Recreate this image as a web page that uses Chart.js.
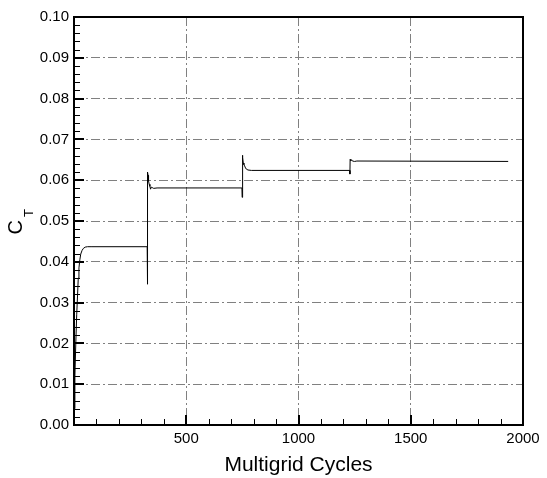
<!DOCTYPE html>
<html>
<head>
<meta charset="utf-8">
<script src="https://cdn.jsdelivr.net/npm/chart.js@4"></script>
<style>
  html, body { margin: 0; padding: 0; background: #fff; }
  #wrap { width: 547px; height: 478px; }
</style>
</head>
<body>
<div id="wrap"><canvas id="ctChart" width="547" height="478"></canvas></div>
<script>
/* ================= DATA ================= */
const cycles = [
    1, 4, 8, 12, 16, 19, 22, 26, 30, 36, 42, 50, 60, 80, 326,
    327, 328, 330, 332, 335, 338, 341, 344, 348, 355, 370, 748,
    749, 750, 752, 754, 757, 760, 764, 768, 775, 790, 1228,
    1229, 1230, 1233, 1236, 1240, 1250, 1260, 1934
];
const ct = [
    0.004, 0.012, 0.020, 0.027, 0.032, 0.036, 0.0385, 0.0405, 0.0419, 0.0428, 0.0433, 0.0436, 0.0437, 0.0437, 0.0437,
    0.0345, 0.0620, 0.0612, 0.0598, 0.0590, 0.0585, 0.0578, 0.0583, 0.0582, 0.0580, 0.0581, 0.0581,
    0.0558, 0.0661, 0.0655, 0.0642, 0.0638, 0.0635, 0.0630, 0.0627, 0.0625, 0.0624, 0.0624,
    0.0615, 0.0651, 0.0648, 0.0650, 0.0647, 0.0646, 0.0647, 0.0646, 0.0646
];
const xTicks = [0, 500, 1000, 1500, 2000];
const yTicks = [0, 0.01, 0.02, 0.03, 0.04, 0.05, 0.06, 0.07, 0.08, 0.09, 0.10];

const FONT = "'Liberation Sans', Arial, Helvetica, sans-serif";
const GRID = "#808080";
const DASH_DOT = [9, 3, 2, 3];

/* ================= FRAME, INWARD TICKS, C_T TITLE ================= */
const frameTicks = {
    id: "frameTicks",
    afterDraw(chart) {
        const { ctx, chartArea: a, scales: { x, y } } = chart;
        ctx.save();
        ctx.strokeStyle = "#000";
        ctx.setLineDash([]);

        // minor ticks
        ctx.lineWidth = 1;
        ctx.beginPath();
        for (let v = 100; v < 2000; v += 100) {
            if (v % 500 === 0) continue;
            const px = Math.round(x.getPixelForValue(v)) + 0.5;
            ctx.moveTo(px, a.bottom);
            ctx.lineTo(px, a.bottom - 6);
        }
        for (let i = 1; i < 50; i++) {
            if (i % 5 === 0) continue;
            const py = Math.round(y.getPixelForValue(i * 0.002)) + 0.5;
            ctx.moveTo(a.left, py);
            ctx.lineTo(a.left + 6, py);
        }
        ctx.stroke();

        // major ticks
        ctx.lineWidth = 2;
        ctx.beginPath();
        xTicks.forEach(v => {
            const px = Math.round(x.getPixelForValue(v));
            ctx.moveTo(px, a.bottom);
            ctx.lineTo(px, a.bottom - 10);
        });
        yTicks.forEach(v => {
            const py = Math.round(y.getPixelForValue(v));
            ctx.moveTo(a.left, py);
            ctx.lineTo(a.left + 10, py);
        });
        ctx.stroke();

        // frame
        ctx.strokeRect(a.left, a.top, a.right - a.left, a.bottom - a.top);

        // y title: C with subscript T
        ctx.fillStyle = "#000";
        ctx.textAlign = "left";
        ctx.textBaseline = "alphabetic";
        ctx.translate(21.5, 234.5);
        ctx.rotate(-Math.PI / 2);
        ctx.font = "20px " + FONT;
        ctx.fillText("C", 0, 0);
        const w = ctx.measureText("C").width;
        ctx.font = "13px " + FONT;
        ctx.fillText("T", w + 3, 11);
        ctx.restore();
    }
};

/* ================= CHART ================= */
new Chart(document.getElementById("ctChart").getContext("2d"), {
    type: "line",
    data: {
        datasets: [{
            data: cycles.map((c, i) => ({ x: c, y: ct[i] })),
            borderColor: "#000",
            borderWidth: 1,
            pointRadius: 0,
            tension: 0,
            fill: false
        }]
    },
    options: {
        responsive: false,
        animation: false,
        layout: { padding: { top: 17, right: 24, left: 0, bottom: 0 } },
        plugins: { legend: { display: false }, tooltip: { enabled: false } },
        scales: {
            x: {
                type: "linear",
                min: 0,
                max: 2000,
                afterFit: s => { s.height = 53; },
                afterBuildTicks: s => { s.ticks = xTicks.map(v => ({ value: v })); },
                border: { display: false, dash: DASH_DOT },
                grid: {
                    drawTicks: false,
                    color: c => (c.tick && (c.tick.value === 0 || c.tick.value === 2000)) ? "rgba(0,0,0,0)" : GRID,
                    lineWidth: 1
                },
                ticks: {
                    padding: 5,
                    color: "#000",
                    font: { family: FONT, size: 15 },
                    callback: v => (v === 0 ? "" : String(v))
                },
                title: {
                    display: true,
                    text: "Multigrid Cycles",
                    color: "#000",
                    font: { family: FONT, size: 21 },
                    padding: { top: 0, bottom: 0 }
                }
            },
            y: {
                type: "linear",
                min: 0,
                max: 0.1,
                afterFit: s => { s.width = 74; },
                afterBuildTicks: s => { s.ticks = yTicks.map(v => ({ value: v })); },
                border: { display: false, dash: DASH_DOT },
                grid: {
                    drawTicks: false,
                    color: c => (c.tick && (c.index === 0 || c.index === yTicks.length - 1)) ? "rgba(0,0,0,0)" : GRID,
                    lineWidth: 1
                },
                ticks: {
                    padding: 5,
                    color: "#000",
                    font: { family: FONT, size: 15 },
                    callback: v => Number(v).toFixed(2)
                }
            }
        }
    },
    plugins: [frameTicks]
});
</script>
</body>
</html>
